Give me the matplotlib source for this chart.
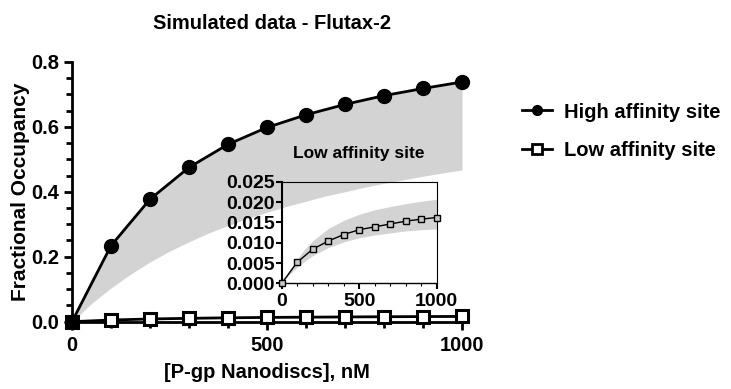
import numpy as np
import matplotlib
matplotlib.use('Agg')
import matplotlib.pyplot as plt
from matplotlib.ticker import MultipleLocator
from matplotlib.lines import Line2D

plt.rcParams.update({
    'font.family': ['Liberation Sans', 'DejaVu Sans'],
    'font.weight': 'bold',
    'axes.linewidth': 2.0,
})

# --- Simulated data ---
conc = [0, 100, 200, 300, 400, 500, 600, 700, 800, 900, 1000]
high_site = [0.0, 0.234, 0.377, 0.475, 0.546, 0.598, 0.637, 0.669, 0.696, 0.718, 0.738]
low_site = [0.0, 0.0052, 0.0084, 0.0104, 0.0120, 0.0132, 0.0139, 0.0146, 0.0153, 0.0158, 0.0162]

# confidence band, high affinity site
band_x = [0, 50, 100, 150, 200, 250, 300, 350, 400, 450, 500,
          550, 600, 650, 700, 750, 800, 850, 900, 950, 1000]
high_upper = [0.0, 0.133, 0.234, 0.313, 0.377, 0.429, 0.475, 0.511, 0.546, 0.571, 0.598,
              0.617, 0.637, 0.653, 0.669, 0.683, 0.696, 0.707, 0.718, 0.728, 0.738]
high_lower = [0.0, 0.056, 0.104, 0.146, 0.184, 0.217, 0.246, 0.273, 0.296, 0.318, 0.337,
              0.355, 0.371, 0.387, 0.400, 0.414, 0.426, 0.437, 0.448, 0.458, 0.467]

# confidence band, low affinity site
low_band_x = [0, 50, 100, 150, 200, 300, 400, 500, 600, 700, 800, 900, 1000]
low_upper = [0.0, 0.0033, 0.0060, 0.0085, 0.0105, 0.0135, 0.0155, 0.0170, 0.0181,
             0.0189, 0.0196, 0.0202, 0.0207]
low_lower = [0.0, 0.0022, 0.0040, 0.0055, 0.0068, 0.0088, 0.0102, 0.0112, 0.0119,
             0.0124, 0.0129, 0.0132, 0.0134]

band_color = '#d3d3d3'

fig = plt.figure(figsize=(7.31, 3.89), dpi=100)
ax = fig.add_axes([0.0985, 0.173, 0.5335, 0.668])

ax.fill_between(band_x, high_lower, high_upper, color=band_color, lw=0, zorder=1)
ax.plot(conc, low_site, color='black', lw=2.0, marker='s', markersize=9,
        markerfacecolor='white', markeredgewidth=2.2, clip_on=False, zorder=4)
ax.plot(conc, high_site, color='black', lw=2.0, marker='o', markersize=10,
        markerfacecolor='black', clip_on=False, zorder=5)

ax.set_xlim(0, 1000)
ax.set_ylim(0, 0.8)
ax.xaxis.set_major_locator(MultipleLocator(500))
ax.xaxis.set_minor_locator(MultipleLocator(100))
ax.yaxis.set_major_locator(MultipleLocator(0.2))
ax.yaxis.set_minor_locator(MultipleLocator(0.05))
ax.yaxis.set_major_formatter(plt.FuncFormatter(lambda v, p: f'{v:.1f}'))
ax.tick_params(which='major', length=6, width=2, labelsize=14.5)
ax.tick_params(axis='x', pad=4)
ax.tick_params(which='minor', length=4, width=2)
for s in ('top', 'right'):
    ax.spines[s].set_visible(False)
ax.patch.set_alpha(0)

ax.set_xlabel('[P-gp Nanodiscs], nM', fontsize=14.5, fontweight='bold')
ax.set_ylabel('Fractional Occupancy', fontsize=15, fontweight='bold')
ax.xaxis.set_label_coords(0.5, -0.16)
ax.yaxis.set_label_coords(-0.108, 0.5)
fig.text(0.372, 0.94, 'Simulated data - Flutax-2', ha='center', va='center',
         fontsize=14.5, fontweight='bold')

# inset: low affinity site on its own scale
ins = fig.add_axes([0.3854, 0.2717, 0.212, 0.261])
ins.patch.set_alpha(0)
ins.fill_between(low_band_x, low_lower, low_upper, color=band_color, lw=0, zorder=1)
ins.plot(conc, low_site, color='black', lw=1.0, marker='s', markersize=4.5,
         markerfacecolor='#c8c8c8', markeredgewidth=1.0, clip_on=False, zorder=4)
ins.set_xlim(0, 1000)
ins.set_ylim(0, 0.025)
ins.xaxis.set_major_locator(MultipleLocator(500))
ins.xaxis.set_minor_locator(MultipleLocator(100))
ins.yaxis.set_major_locator(MultipleLocator(0.005))
ins.yaxis.set_major_formatter(plt.FuncFormatter(lambda v, p: f'{v:.3f}'))
ins.tick_params(which='major', length=4, width=1.5, labelsize=14, pad=1)
ins.tick_params(which='minor', length=2, width=0.8)
ins.tick_params(axis='x', pad=3)
ins.spines['left'].set_linewidth(1.5)
ins.spines['bottom'].set_linewidth(1.0)
for s in ('top', 'right'):
    ins.spines[s].set_linewidth(0.8)
ins.set_title('Low affinity site', fontsize=12.5, fontweight='bold', pad=17)

handles = [
    Line2D([0], [0], color='black', lw=2, marker='o', markersize=7),
    Line2D([0], [0], color='black', lw=2, marker='s', markersize=7,
           markerfacecolor='white', markeredgewidth=2),
]
fig.legend(handles, ['High affinity site', 'Low affinity site'], loc='center left',
           bbox_to_anchor=(0.689, 0.663), frameon=False, fontsize=14.5,
           handlelength=1.5, handletextpad=0.6, labelspacing=0.95)

fig.savefig('out.png', dpi=100)
